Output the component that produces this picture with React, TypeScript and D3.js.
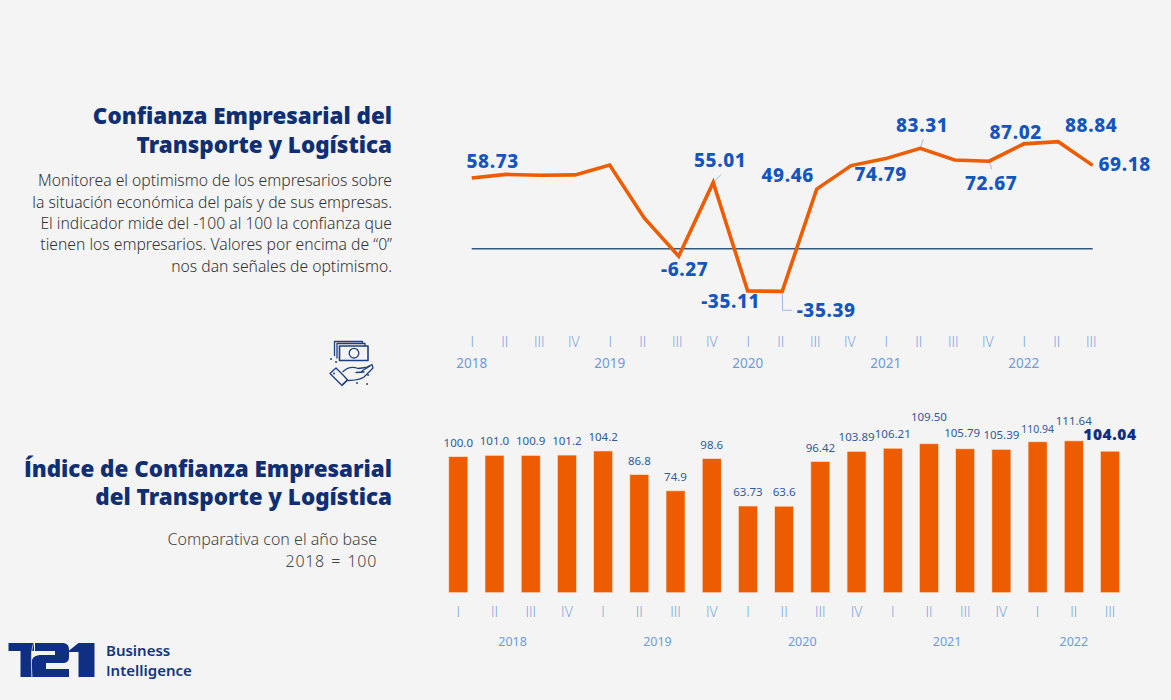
import { useEffect, useRef } from "react";
import * as d3 from "d3";

const quarters = ["I", "II", "III", "IV", "I", "II", "III", "IV", "I", "II", "III", "IV", "I", "II", "III", "IV", "I", "II", "III"];
const years = ["2018", "2018", "2018", "2018", "2019", "2019", "2019", "2019", "2020", "2020", "2020", "2020", "2021", "2021", "2021", "2021", "2022", "2022", "2022"];
const yearNames = ["2018", "2019", "2020", "2021", "2022"];

// unlabeled points of the line
const confidence = [58.73, 61.7, 61.0, 61.3, 69.4, 25.5, -6.27, 55.01, -35.11, -35.39, 49.46, 69.0, 74.79, 83.31, 73.6, 72.67, 87.02, 88.84, 69.18];
const lineLabels = ["58.73", "55.01", "-6.27", "-35.11", "-35.39", "49.46", "74.79", "83.31", "72.67", "87.02", "88.84", "69.18"];
const lineLabelIndex = [0, 7, 6, 8, 9, 10, 12, 13, 15, 16, 17, 18];

const barLabels = ["100.0", "101.0", "100.9", "101.2", "104.2", "86.8", "74.9", "98.6", "63.73", "63.6", "96.42", "103.89", "106.21", "109.50", "105.79", "105.39", "110.94", "111.64", "104.04"];
const barValues = barLabels.map(Number);

const BLUE = "#0f2f72";
const ORANGE = "#ee5c00";
const LABEL = "#1556bd";
const TICK = "#6f9bdb";
const FONT = "'Noto Sans', 'Open Sans', sans-serif";
// Noto's capital I has serifs, the reference doesn't
const PLAIN_I = "'Open Sans', sans-serif";

// hand placed label offsets from each point: [dx, baseline dy]
const lineNudge: Record<number, [number, number]> = {
  0: [21, -10], 7: [7, -15], 6: [6, 20], 8: [-17, 17], 9: [44, 26], 10: [-29, -7],
  12: [-5, 22], 13: [2, -16], 15: [2, 29], 16: [-8, -5], 17: [33, -10], 18: [32, 6],
};
// leader lines, as offsets from the point
const leaders: Record<number, [number, number][]> = {
  7: [[0, 0], [8, -8]],
  9: [[0, 1], [0.5, 19], [10, 19]],
  13: [[0, 0], [3, -9]],
  15: [[0, 0], [2.5, 8]],
};
const barNudge: Record<number, [number, number]> = { 13: [0, -13], 14: [-3, -2], 16: [0, 1], 17: [0, -6], 18: [0, -1] };

export default function App() {
  const ref = useRef<SVGSVGElement>(null);

  useEffect(() => {
    if (!ref.current) return;
    const svg = d3.select(ref.current);
    svg.selectAll(".chart").remove();
    const idx = d3.range(quarters.length);

    // line chart
    const x = d3.scalePoint<number>().domain(idx).range([471.7, 1092.7]);
    const y = d3.scaleLinear().domain([0, 88.84]).range([248.7, 141.7]);
    const top = svg.append("g").attr("class", "chart");

    top.append("line")
      .attr("x1", x(0)!).attr("x2", x(18)!)
      .attr("y1", y(0)).attr("y2", y(0))
      .attr("stroke", "#33587f").attr("stroke-width", 1.5);

    top.selectAll("path.leader").data(Object.entries(leaders)).join("path")
      .attr("class", "leader")
      .attr("fill", "none").attr("stroke", "#9dbbe6").attr("stroke-width", 1)
      .attr("d", ([k, pts]) => d3.line()(pts.map(([dx, dy]) => [x(+k)! + dx, y(confidence[+k]) + dy])));

    const line = d3.line<number>().x((_, i) => x(i)!).y((d) => y(d));
    top.append("path").datum(confidence)
      .attr("fill", "none").attr("stroke", ORANGE).attr("stroke-width", 3.6)
      .attr("stroke-linejoin", "miter").attr("d", line);

    top.selectAll("text.val").data(lineLabels).join("text")
      .attr("class", "val")
      .attr("x", (_, i) => x(lineLabelIndex[i])! + lineNudge[lineLabelIndex[i]][0])
      .attr("y", (_, i) => y(confidence[lineLabelIndex[i]]) + lineNudge[lineLabelIndex[i]][1])
      .attr("text-anchor", "middle")
      .attr("font-family", FONT).attr("font-size", 19).attr("font-weight", 800)
      .attr("letter-spacing", 0.6).attr("fill", LABEL)
      .text((d) => d);

    const topAxis = top.append("g").attr("transform", "translate(0,337)")
      .call(d3.axisBottom(x).tickSize(0).tickPadding(0).tickFormat((i) => quarters[i as number]));
    topAxis.select(".domain").remove();
    topAxis.selectAll("text")
      .attr("dx", (i: any) => (quarters[i] === "I" ? 0 : -2))
      .attr("dy", 0).attr("y", 10)
      .attr("font-family", PLAIN_I).attr("font-size", 14).attr("font-weight", 300).attr("fill", TICK);

    top.selectAll("text.year").data(yearNames).join("text")
      .attr("class", "year")
      .attr("x", (d) => x(years.indexOf(d))!)
      .attr("y", 368)
      .attr("text-anchor", "middle")
      .attr("font-family", FONT).attr("font-size", 13.5).attr("font-weight", 400).attr("fill", TICK)
      .text((d) => d);

    // bars
    const bx = d3.scaleBand<number>().domain(idx).range([440.2, 1128.1]).paddingInner(0.475).paddingOuter(0.2375);
    const by = d3.scaleLinear().domain([0, 100]).range([592.7, 456.7]);
    const bottom = svg.append("g").attr("class", "chart");

    bottom.selectAll("rect").data(barValues).join("rect")
      .attr("x", (_, i) => bx(i)!)
      .attr("y", (d) => by(d))
      .attr("width", bx.bandwidth())
      .attr("height", (d) => by(0) - by(d))
      .attr("fill", ORANGE).attr("stroke", "#fbe3d2").attr("stroke-width", 0.6);

    bottom.selectAll("text.val").data(barLabels).join("text")
      .attr("class", "val")
      .attr("x", (_, i) => bx(i)! + bx.bandwidth() / 2 + (barNudge[i]?.[0] ?? 0))
      .attr("y", (_, i) => by(barValues[i]) - 10 + (barNudge[i]?.[1] ?? 0))
      .attr("text-anchor", "middle")
      .attr("font-family", FONT)
      .attr("font-size", (_, i) => (i === 18 ? 15.5 : i === 16 ? 10.4 : 11.5))
      .attr("font-weight", (_, i) => (i === 18 ? 900 : 400))
      .attr("letter-spacing", (_, i) => (i === 18 ? 0.6 : 0))
      .attr("fill", (_, i) => (i === 18 ? "#0f2f82" : "#2f5a9c"))
      .text((d) => d);

    const botAxis = bottom.append("g").attr("transform", "translate(0,607)")
      .call(d3.axisBottom(bx).tickSize(0).tickPadding(0).tickFormat((i) => quarters[i as number]));
    botAxis.select(".domain").remove();
    botAxis.selectAll("text")
      .attr("dy", 0).attr("y", 10)
      .attr("font-family", PLAIN_I).attr("font-size", 14).attr("font-weight", 300).attr("fill", TICK);

    bottom.selectAll("text.year").data(yearNames).join("text")
      .attr("class", "year")
      .attr("x", (d) => d3.mean(idx.filter((i) => years[i] === d), (i) => bx(i)! + bx.bandwidth() / 2)!)
      .attr("y", 646)
      .attr("text-anchor", "middle")
      .attr("font-family", FONT).attr("font-size", 12.5).attr("font-weight", 400).attr("fill", TICK)
      .text((d) => d);
  }, []);

  const title = { fontFamily: FONT, fontSize: 22.4, fontWeight: 900, fill: BLUE, textAnchor: "end" as const };
  const body = { fontFamily: FONT, fontSize: 15.7, fontWeight: 300, fill: "#333333", textAnchor: "end" as const };
  const sub = { fontFamily: FONT, fontSize: 16, fontWeight: 300, fill: "#444444", textAnchor: "end" as const };
  const brand = { fontFamily: FONT, fontSize: 15, fontWeight: 600, fill: "#123580" };

  return (
    <div style={{ position: "absolute", left: 0, top: 0 }}>
      <svg ref={ref} width={1171} height={700} style={{ display: "block", background: "#f4f4f4" }}>
        <text x={392} y={124} {...title}>Confianza Empresarial del</text>
        <text x={392} y={153} {...title}>Transporte y Logística</text>
        <text x={392} y={186} {...body}>Monitorea el optimismo de los empresarios sobre</text>
        <text x={392} y={208} {...body}>la situación económica del país y de sus empresas.</text>
        <text x={392} y={229} {...body}>El indicador mide del -100 al 100 la confianza que</text>
        <text x={392} y={250} {...body}>tienen los empresarios. Valores por encima de “0”</text>
        <text x={392} y={272} {...body}>nos dan señales de optimismo.</text>

        <text x={392} y={477} {...title}><tspan fontFamily={PLAIN_I}>Í</tspan>ndice de Confianza Empresarial</text>
        <text x={392} y={505} {...title}>del Transporte y Logística</text>
        <text x={377} y={545} {...sub}>Comparativa con el año base</text>
        <text x={377} y={567} {...sub} letterSpacing={0.7} wordSpacing={1.5}>2018 = 100</text>

        {/* money-in-hand icon */}
        <g fill="none" stroke="#1c3f80" strokeWidth={1.3} strokeLinejoin="round" strokeLinecap="round">
          <rect x={339.5} y={346} width={28.5} height={14.5} strokeWidth={1.6} />
          <path d="M337 358V343.5H365V346M334.5 355.5V341.5H362.5V343.5" />
          <circle cx={354} cy={353.2} r={4.8} />
          <path d="M343 371.5C348 367 353 366.5 358 368.5L366 367.5L372 364.5L373 368L364 377C358 381 353 380 347 380.5L343 384" />
          <path d="M356 372.5L364 372M362 371L370 366" />
          <path d="M330 373.5L336 368L344 376L347.5 380L342 385.5Z" />
          <path d="M334 373.5h.1M331 359h.1M336 362h.1M357 383h.1M367 384h.1M368 375h.1" strokeWidth={1.8} />
        </g>

        {/* T21 logo */}
        <g fill="#0f2f84">
          <path d="M8.5 643H34V651H31.5V677H20.5V651H8.5Z" />
          <path d="M35 643H62C67 643 69 645 69 650V657C69 661 67 663 62 663H46V669H69V677H31.5V664C31.5 657 35 655 42 655H55V651H35Z" />
          <path d="M68.5 651L78.5 643H94.5V677H78.5V652H69Z" />
        </g>
        <path d="M34 643C31 648 31 660 32 677" stroke="#f4f4f4" strokeWidth={0.7} fill="none" />
        <text x={106} y={656} {...brand}>Business</text>
        <text x={106} y={676} {...brand}><tspan fontFamily={PLAIN_I}>I</tspan>ntelligence</text>
      </svg>
    </div>
  );
}
